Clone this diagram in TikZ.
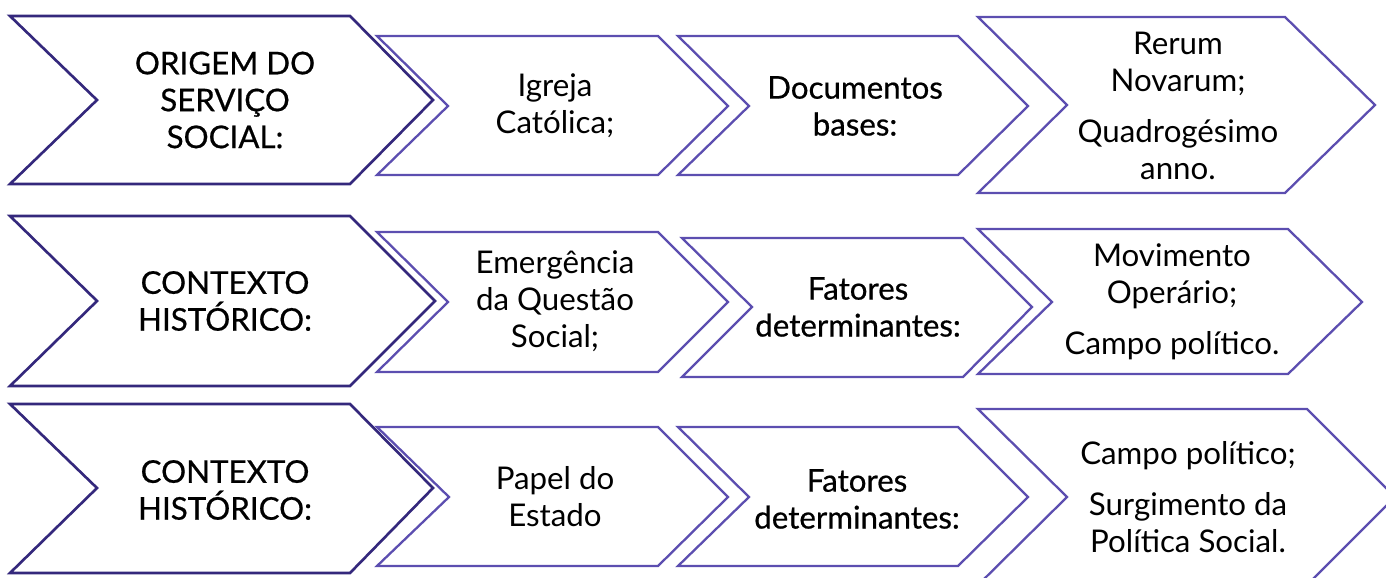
\documentclass[tikz,border=0pt]{standalone}
\usepackage{fontspec}
\setmainfont{Lato}
\newfontfamily\medfont{Lato}[FakeBold=0.6]
\usepackage{tikz}
\usepackage{xcolor}
\definecolor{headline}{RGB}{52,40,124}
\definecolor{chevline}{RGB}{92,78,176}

\tikzset{
    headbox/.style={draw=headline, line width=1.5pt, fill=white, line join=miter},
    chevbox/.style={draw=chevline, line width=1.3pt, fill=white, line join=miter},
    plain/.style={align=center, font=\fontsize{17.8}{21}\selectfont},
    strong/.style={align=center, font=\fontsize{17.8}{21}\selectfont\medfont}
}

\begin{document}
\begin{tikzpicture}[x=0.02cm, y=-0.02cm]
    \clip (0,0) rectangle (1386,578);

    % First row
    \draw[headbox] (10,16) -- (350,16) -- (433,100) -- (350,184) -- (10,184) -- (97,100) -- cycle;
    \draw[chevbox] (377,36) -- (658,36) -- (728,106) -- (658,175) -- (377,175) -- (448,106) -- cycle;
    \draw[chevbox] (678,36) -- (958,36) -- (1028,106) -- (958,175) -- (678,175) -- (749,106) -- cycle;
    \draw[chevbox] (978,17) -- (1285,17) -- (1375,105) -- (1285,193) -- (978,193) -- (1067,105) -- cycle;

    \node[strong] (origem) at (225,100) {ORIGEM DO\\SERVIÇO\\SOCIAL:};
    \node[plain] (igreja) at (555,106) {Igreja\\Católica;};
    \node[strong] (docs) at (855,106) {Documentos\\bases:};
    \node[plain] (rerum) at (1178,106) {Rerum\\Novarum;\\[8pt]Quadrogésimo\\anno.};

    % Second row
    \draw[headbox] (10,216) -- (350,216) -- (435,301) -- (350,386) -- (10,386) -- (97,301) -- cycle;
    \draw[chevbox] (377,232) -- (658,232) -- (728,302) -- (658,372) -- (377,372) -- (448,302) -- cycle;
    \draw[chevbox] (682,238) -- (963,238) -- (1032,307) -- (963,377) -- (682,377) -- (752,307) -- cycle;
    \draw[chevbox] (978,229) -- (1288,229) -- (1362,302) -- (1288,374) -- (978,374) -- (1052,302) -- cycle;

    \node[strong] (contexto1) at (225,301) {CONTEXTO\\HISTÓRICO:};
    \node[plain] (emergencia) at (555,301) {Emergência\\da Questão\\Social;};
    \node[strong] (fatores1) at (858,307) {Fatores\\determinantes:};
    \node[plain] (movimento) at (1172,302) {Movimento\\Operário;\\[8pt]Campo político.};

    % Third row
    \draw[headbox] (10,404) -- (350,404) -- (433,488) -- (350,573) -- (10,573) -- (97,488) -- cycle;
    \draw[chevbox] (377,427) -- (658,427) -- (728,497) -- (658,566) -- (377,566) -- (449,497) -- cycle;
    \draw[chevbox] (678,427) -- (958,427) -- (1028,497) -- (958,566) -- (678,566) -- (749,497) -- cycle;
    \draw[chevbox] (978,409) -- (1307,409) -- (1395,497) -- (1307,585) -- (978,585) -- (1067,497) -- cycle;

    \node[strong] (contexto2) at (225,490) {CONTEXTO\\HISTÓRICO:};
    \node[plain] (papel) at (555,497) {Papel do\\Estado};
    \node[strong] (fatores2) at (857,499) {Fatores\\determinantes:};
    \node[plain] (campo) at (1188,497) {Campo político;\\[8pt]Surgimento da\\Política Social.};

\end{tikzpicture}
\end{document}
